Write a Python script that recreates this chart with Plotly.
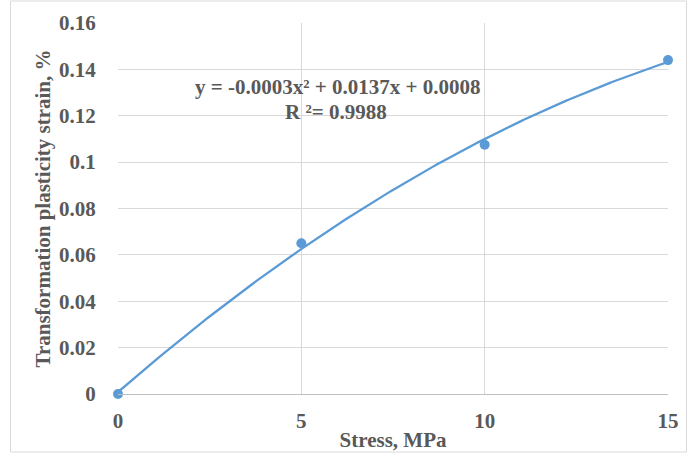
import numpy as np
import plotly.graph_objects as go

# Measured transformation plasticity strain vs applied stress
stress_mpa = [0, 5, 10, 15]
tp_strain_pct = [0.0, 0.065, 0.1075, 0.144]

x_ticks = [0, 5, 10, 15]
x_tick_text = ["0", "5", "10", "15"]
y_ticks = [0, 0.02, 0.04, 0.06, 0.08, 0.1, 0.12, 0.14, 0.16]
y_tick_text = ["0", "0.02", "0.04", "0.06", "0.08", "0.1", "0.12", "0.14", "0.16"]

equation_text = "y = -0.0003x² + 0.0137x + 0.0008"
r2_text = "R ²= 0.9988"

BLUE = "#5B9BD5"
GREY_TEXT = "#595959"
GRID = "#D9D9D9"
FONT = "Liberation Serif"

def bold_font(size=21):
    return dict(family=FONT, size=size, color=GREY_TEXT, weight="bold")

# Second-order polynomial trendline fitted to the measurements
coef = np.polyfit(stress_mpa, tp_strain_pct, 2)
xs = np.linspace(0, 15, 200)
ys = np.polyval(coef, xs)

fig = go.Figure()
fig.add_trace(go.Scatter(
    x=xs, y=ys, mode="lines",
    line=dict(color=BLUE, width=2.3),
    hoverinfo="skip", showlegend=False,
))
fig.add_trace(go.Scatter(
    x=stress_mpa, y=tp_strain_pct, mode="markers",
    marker=dict(color=BLUE, size=10),
    cliponaxis=False, showlegend=False,
))

# Plot area in pixels: x 118..668, y 23..394
L, R, T, B = 118, 668, 23, 394
W, H = 688, 454
def px(xp):
    return (xp - L) / (R - L)
def py(yp):
    return (B - yp) / (B - T)

fig.add_annotation(
    x=px(337), y=py(87), xref="paper", yref="paper",
    xanchor="center", yanchor="middle",
    text=equation_text, showarrow=False, font=bold_font(),
)
fig.add_annotation(
    x=px(336), y=py(112), xref="paper", yref="paper",
    xanchor="center", yanchor="middle",
    text=r2_text, showarrow=False, font=bold_font(),
)

# Light chart border
fig.add_shape(
    type="rect", xref="paper", yref="paper",
    x0=px(10.5), x1=px(686.5), y0=py(452), y1=py(1),
    line=dict(color=GRID, width=1), layer="below",
)

fig.update_layout(
    width=W, height=H,
    margin=dict(l=L, r=W - R, t=T, b=H - B, autoexpand=False),
    paper_bgcolor="white", plot_bgcolor="white",
    font=dict(family=FONT, color=GREY_TEXT),
)
fig.update_xaxes(
    range=[0, 15], tickvals=x_ticks, ticktext=x_tick_text,
    showgrid=True, gridcolor=GRID, gridwidth=1,
    showline=True, linecolor="#BFBFBF", linewidth=1, mirror=False,
    zeroline=False, ticks="outside", ticklen=8, tickcolor="rgba(0,0,0,0)",
    tickfont=bold_font(),
    title=dict(text="Stress, MPa", standoff=0, font=bold_font()),
    automargin=False,
)
fig.update_yaxes(
    range=[0, 0.16], tickvals=y_ticks, ticktext=y_tick_text,
    showgrid=True, gridcolor=GRID, gridwidth=1,
    showline=False, zeroline=False,
    ticks="outside", ticklen=17, tickcolor="rgba(0,0,0,0)",
    tickfont=bold_font(),
    title=dict(text="Transformation plasticity strain, %", standoff=2,
               font=bold_font()),
    automargin=False,
)

fig.write_html("out.html")
